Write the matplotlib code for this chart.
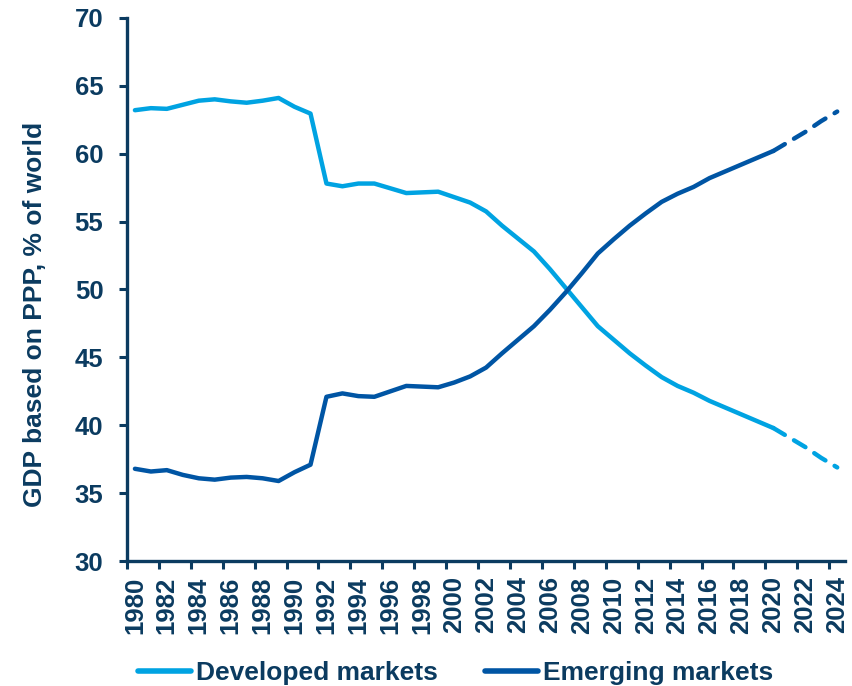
import numpy as np
import matplotlib
matplotlib.use("Agg")
import matplotlib.pyplot as plt

# GDP based on PPP, share of world (%)
years = np.arange(1980, 2025)
developed = [63.2, 63.35, 63.3, 63.6, 63.9, 64.0, 63.85, 63.75, 63.9, 64.1,
             63.45, 62.95, 57.8, 57.6, 57.8, 57.8, 57.45, 57.1, 57.15, 57.2,
             56.8, 56.4, 55.75, 54.7, 53.75, 52.8, 51.5, 50.1, 48.7, 47.3,
             46.3, 45.3, 44.4, 43.55, 42.9, 42.4, 41.8, 41.3, 40.8, 40.3,
             39.8, 39.1, 38.4, 37.6, 36.9]
emerging = [36.8, 36.6, 36.7, 36.35, 36.1, 36.0, 36.15, 36.2, 36.1, 35.9,
            36.55, 37.1, 42.1, 42.35, 42.15, 42.1, 42.5, 42.9, 42.85, 42.8,
            43.15, 43.6, 44.25, 45.3, 46.3, 47.3, 48.5, 49.8, 51.2, 52.65,
            53.7, 54.7, 55.6, 56.45, 57.05, 57.55, 58.2, 58.7, 59.2, 59.7,
            60.2, 60.9, 61.6, 62.4, 63.1]
last_actual = 2020
series_names = ["Developed markets", "Emerging markets"]

navy = "#0B3B60"
light = "#00A3E2"
dark = "#0055A4"

plt.rcParams['font.family'] = ['Liberation Sans', 'DejaVu Sans']
plt.rcParams['font.weight'] = 'bold'

fig = plt.figure(figsize=(8.52, 6.86), dpi=100)
ax = fig.add_axes([0.149, 0.182, 0.843, 0.792])

years = np.asarray(years)
cut = int(np.where(years == last_actual)[0][0])
lw = 3.2
for vals, col, name in [(developed, light, series_names[0]), (emerging, dark, series_names[1])]:
    vals = np.asarray(vals)
    ax.plot(years[:cut + 1], vals[:cut + 1], color=col, lw=lw,
            solid_capstyle='round', solid_joinstyle='round', label=name)
    ax.plot(years[cut:], vals[cut:], color=col, lw=lw, ls=(0, (3.0, 2.4)),
            dash_capstyle='round')

ax.set_xlim(1979.5, 2024.5)
ax.set_ylim(30, 70)
ax.set_yticks(np.arange(30, 71, 5))

# labels on the years, tick marks half a year to the left
ax.set_xticks(years[::2])
ax.set_xticklabels([str(y) for y in years[::2]], rotation=90)
ax.set_xticks(years[::2] - 0.5, minor=True)
ax.tick_params(axis='x', which='major', length=0, pad=11, labelsize=18.5)
ax.tick_params(axis='x', which='minor', length=6, width=2.2, color=navy, direction='out')
ax.tick_params(axis='y', length=6, width=2.2, color=navy, pad=11, labelsize=18.5)
ax.tick_params(labelcolor=navy)

for s in ['top', 'right']:
    ax.spines[s].set_visible(False)
for s in ['left', 'bottom']:
    ax.spines[s].set_color(navy)
    ax.spines[s].set_linewidth(2.4)

ax.set_ylabel("GDP based on PPP, % of world", fontsize=19, color=navy,
              fontweight='bold')
ax.yaxis.set_label_coords(-0.112, 0.455)

leg = fig.legend(loc='center', bbox_to_anchor=(0.535, 0.019), ncol=2, frameon=False,
                 fontsize=19, handlelength=2.0, handletextpad=0.2, columnspacing=1.8)
for line in leg.get_lines():
    line.set_linewidth(4)
for t in leg.get_texts():
    t.set_color(navy)

fig.savefig("out.png", dpi=100)
